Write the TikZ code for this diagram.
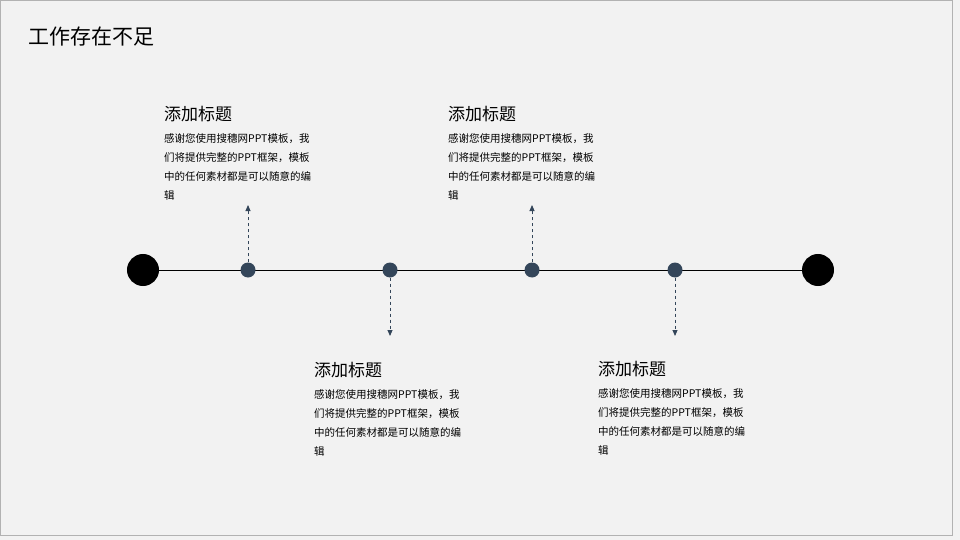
\documentclass[tikz,border=0pt]{standalone}
\usepackage{fontspec}
\newfontfamily\cjk{Noto Sans CJK SC}
\usetikzlibrary{arrows.meta}
\definecolor{dotc}{HTML}{34465A}
\definecolor{bgc}{HTML}{F2F2F2}
\begin{document}
\begin{tikzpicture}[x=1pt,y=-1pt,
  dotn/.style={circle,fill=dotc,inner sep=0,minimum size=15pt},
  endn/.style={circle,draw=black,line width=4pt,fill=black,inner sep=0,minimum size=28pt,
     path picture={\fill[white] (path picture bounding box.center) circle (9pt);
                   \fill[black] (path picture bounding box.center) circle (11pt);}},
  ttl/.style={anchor=west,font=\cjk\fontsize{17}{20}\selectfont,inner sep=0},
  body/.style={anchor=north west,align=left,font=\cjk\fontsize{10.5}{19}\selectfont,inner sep=0,text width=175pt},
  conn/.style={dotc,dashed,line width=0.9pt,-{Triangle[length=6pt,width=5pt]}}]
\fill[bgc] (0,0) rectangle (960,540);
\draw[gray!60] (0.5,0.5) rectangle (952,535);
\node[anchor=west,inner sep=0,font=\cjk\fontsize{21}{24}\selectfont] (h) at (28,37) {工作存在不足};
\node[endn] (L) at (143,270) {};
\node[endn] (R) at (818,270) {};
\draw[black,line width=1pt] (L) -- (R);
\node[dotn] (d1) at (248,270) {};
\node[dotn] (d2) at (390,270) {};
\node[dotn] (d3) at (532,270) {};
\node[dotn] (d4) at (675,270) {};
\coordinate (a1) at (248,205);
\coordinate (a2) at (390,336);
\coordinate (a3) at (532,205);
\coordinate (a4) at (675,336);
\draw[conn] (d1) -- (a1);
\draw[conn] (d2) -- (a2);
\draw[conn] (d3) -- (a3);
\draw[conn] (d4) -- (a4);
\def\bodytext{感谢您使用搜穗网PPT模板，我\\们将提供完整的PPT框架，模板\\中的任何素材都是可以随意的编\\辑}
\node[ttl] (t1) at (164,114) {添加标题};
\node[body] (b1) at (164,133) {\bodytext};
\node[ttl] (t2) at (448,114) {添加标题};
\node[body] (b2) at (448,133) {\bodytext};
\node[ttl] (t3) at (314,370) {添加标题};
\node[body] (b3) at (314,389) {\bodytext};
\node[ttl] (t4) at (598,369) {添加标题};
\node[body] (b4) at (598,388) {\bodytext};
\end{tikzpicture}
\end{document}
